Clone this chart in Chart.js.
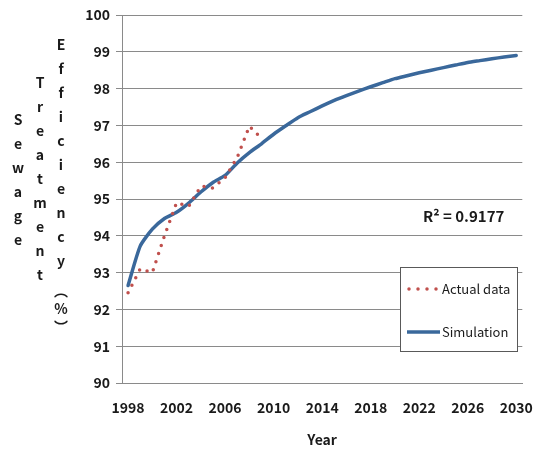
<!DOCTYPE html>
<html>
<head>
<meta charset="utf-8">
<title>Sewage Treatment Efficiency</title>
<script src="https://cdn.jsdelivr.net/npm/chart.js@4.4.1/dist/chart.umd.min.js"></script>
<style>
    html, body { margin: 0; padding: 0; background: #fff; }
    #chart { display: block; }
</style>
</head>
<body>
<canvas id="chart" width="549" height="449"></canvas>
<script>
// Dados
const years = [];
for (let y = 1998; y <= 2030; y++) years.push(String(y));

const actualData = [92.45, 93.1, 93.0, 94.0, 94.9, 94.8, 95.35, 95.3, 95.58, 96.13, 96.98, 96.65];

const simulationData = [
    92.65, 93.72, 94.18, 94.47, 94.64, 94.89, 95.19, 95.45, 95.64, 95.98,
    96.26, 96.50, 96.76, 96.99, 97.21, 97.37, 97.53, 97.68, 97.81, 97.93,
    98.05, 98.16, 98.27, 98.35, 98.43, 98.50, 98.57, 98.64, 98.71, 98.76,
    98.81, 98.86, 98.90
];

const yTitleColumns = ['Sewage', 'Treatment', 'Efficiency'];
const yTitleUnit = ['\uFE35', '%', '\uFE36'];
const xTitle = 'Year';
const r2Text = 'R\u00B2 = 0.9177';

const FONT = '"Noto Sans CJK KR", "Noto Sans", sans-serif';
const GRID = '#8a8a8a';
const RED = '#C0504D';
const BLUE = '#3A689B';

// Títulos e legenda desenhados à mão (layout do Excel)
const decorPlugin = {
    id: 'decor',
    afterDraw(chart) {
        const ctx = chart.ctx;
        const area = chart.chartArea;
        ctx.save();

        // título do eixo Y em texto empilhado
        ctx.fillStyle = '#1a1a1a';
        ctx.font = 'bold 14px ' + FONT;
        ctx.textAlign = 'center';
        ctx.textBaseline = 'middle';
        const colX = [18, 40, 61];
        const colY = [120, 83, 45];
        const step = 24;
        yTitleColumns.forEach((word, i) => {
            [...word].forEach((ch, j) => ctx.fillText(ch, colX[i], colY[i] + j * step));
        });
        const unitY = [291, 309, 327];
        yTitleUnit.forEach((ch, j) => ctx.fillText(ch, colX[2], unitY[j]));

        // título do eixo X
        ctx.fillText(xTitle, (area.left + area.right) / 2, 440);

        // R²
        ctx.font = 'bold 15px ' + FONT;
        ctx.textAlign = 'left';
        ctx.fillText(r2Text, 423, 216);

        // legenda
        const bx = 400.5, by = 267.5, bw = 117, bh = 84;
        ctx.fillStyle = '#fff';
        ctx.fillRect(bx, by, bw, bh);
        ctx.strokeStyle = '#595959';
        ctx.lineWidth = 1;
        ctx.strokeRect(bx, by, bw, bh);

        const ds = chart.data.datasets;
        // amostra pontilhada
        ctx.strokeStyle = RED;
        ctx.lineWidth = 3.5;
        ctx.lineCap = 'round';
        ctx.setLineDash([0, 9]);
        ctx.beginPath();
        ctx.moveTo(409, 289);
        ctx.lineTo(438, 289);
        ctx.stroke();
        // amostra contínua
        ctx.setLineDash([]);
        ctx.lineCap = 'butt';
        ctx.strokeStyle = BLUE;
        ctx.beginPath();
        ctx.moveTo(407, 332);
        ctx.lineTo(440, 332);
        ctx.stroke();

        ctx.fillStyle = '#1a1a1a';
        ctx.font = '13px ' + FONT;
        ctx.textAlign = 'left';
        ctx.fillText(ds[0].label, 442, 289);
        ctx.fillText(ds[1].label, 442, 332);

        ctx.restore();
    }
};

const chart = new Chart(document.getElementById('chart').getContext('2d'), {
    type: 'line',
    data: {
        labels: years,
        datasets: [
            {
                label: 'Actual data',
                data: actualData,
                borderColor: RED,
                borderWidth: 3.5,
                borderDash: [0, 8.5],
                borderCapStyle: 'round',
                pointRadius: 0,
                fill: false,
                tension: 0
            },
            {
                label: 'Simulation',
                data: simulationData,
                borderColor: BLUE,
                borderWidth: 3.5,
                borderCapStyle: 'round',
                borderJoinStyle: 'round',
                pointRadius: 0,
                fill: false,
                tension: 0.2
            }
        ]
    },
    options: {
        responsive: false,
        animation: false,
        layout: {
            padding: { top: 15, right: 16, bottom: 0, left: 0 }
        },
        plugins: {
            legend: { display: false },
            title: { display: false },
            tooltip: { enabled: false }
        },
        scales: {
            x: {
                type: 'category',
                offset: true,
                grid: { display: false, drawTicks: false },
                border: { display: true, color: GRID, width: 1 },
                ticks: {
                    autoSkip: false,
                    maxRotation: 0,
                    minRotation: 0,
                    padding: 16,
                    color: '#1a1a1a',
                    font: { family: FONT, size: 14, weight: 'bold' },
                    callback: function(value, index) {
                        return index % 4 === 0 ? this.getLabelForValue(value) : '';
                    }
                },
                afterFit: (scale) => { scale.height = 66; }
            },
            y: {
                min: 90,
                max: 100,
                grid: {
                    color: GRID,
                    lineWidth: 1,
                    drawTicks: true,
                    tickLength: 6
                },
                border: { display: true, color: GRID, width: 1 },
                ticks: {
                    stepSize: 1,
                    padding: 6,
                    color: '#1a1a1a',
                    font: { family: FONT, size: 14, weight: 'bold' }
                },
                afterFit: (scale) => { scale.width = 122; }
            }
        }
    },
    plugins: [decorPlugin]
});
</script>
</body>
</html>
